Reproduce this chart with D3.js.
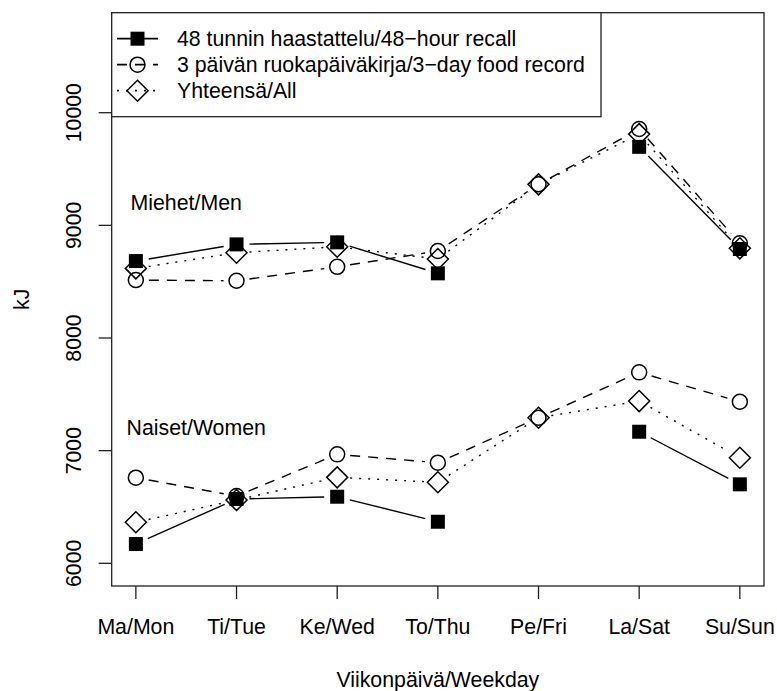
<!DOCTYPE html>
<html><head><meta charset="utf-8">
<script src="https://cdn.jsdelivr.net/npm/d3@7"></script>
<style>body{margin:0;background:#fff}svg{display:block}text{font-family:"Liberation Sans",Arial,Helvetica,sans-serif;fill:#000}</style>
</head><body>
<script>
const days = ["Ma/Mon","Ti/Tue","Ke/Wed","To/Thu","Pe/Fri","La/Sat","Su/Sun"];
const men48 = [8683, 8831, 8849, 8574, null, 9697, 8790];
const men3d = [8514, 8508, 8632, 8772, 9364, 9855, 8840];
const menAll = [8618, 8757, 8810, 8701, 9364, 9810, 8796];
const women48 = [6171, 6571, 6591, 6369, null, 7168, 6701];
const women3d = [6760, 6597, 6967, 6893, 7292, 7695, 7434];
const womenAll = [6364, 6562, 6763, 6719, 7292, 7440, 6937];
const yTicks = [6000, 7000, 8000, 9000, 10000];
const seriesNames = ["48 tunnin haastattelu/48\u2212hour recall", "3 p\u00e4iv\u00e4n ruokap\u00e4iv\u00e4kirja/3\u2212day food record", "Yhteens\u00e4/All"];
const groupLabels = [{text:"Miehet/Men", x:1.5, v:9200}, {text:"Naiset/Women", x:1.6, v:7200}];

const W = 777, H = 691;
const L = 111.7, R = 764, T = 12.7, B = 586;
const FS = 21.3;
const svg = d3.select("body").append("svg").attr("width", W).attr("height", H);

const x = d3.scalePoint().domain(days).range([L, R]).padding(0.24);
const y = d3.scaleLinear().domain([6000, 10000]).range([563.3, 112.7]);
const xi = d3.scaleLinear().domain([1, 7]).range([x(days[0]), x(days[6])]);

const styles = [
  {dash:null, marker:"square"},
  {dash:"10,8", marker:"circle"},
  {dash:"2,7", marker:"diamond"}
];

function drawMarker(g, type, cx, cy) {
  if (type === "square") {
    g.append("rect").attr("x", cx-7).attr("y", cy-7).attr("width", 14).attr("height", 14).attr("fill", "#000");
  } else if (type === "circle") {
    g.append("circle").attr("cx", cx).attr("cy", cy).attr("r", 7.5).attr("fill", "none").attr("stroke", "#000").attr("stroke-width", 1.5);
  } else {
    const r = 10.5;
    g.append("path").attr("d", `M${cx},${cy-r}L${cx+r},${cy}L${cx},${cy+r}L${cx-r},${cy}Z`).attr("fill", "none").attr("stroke", "#000").attr("stroke-width", 1.5);
  }
}

const groups = [[men48, men3d, menAll], [women48, women3d, womenAll]];
const plot = svg.append("g");
const GAP = 13;
groups.forEach(grp => {
  grp.forEach((vals, si) => {
    const st = styles[si];
    const pts = vals.map((v, i) => v == null ? null : [x(days[i]), y(v)]);
    for (let i = 0; i < pts.length - 1; i++) {
      const a = pts[i], b = pts[i+1];
      if (!a || !b) continue;
      const dx = b[0]-a[0], dy = b[1]-a[1], len = Math.hypot(dx, dy);
      if (len <= 2*GAP) continue;
      const ux = dx/len, uy = dy/len;
      const ln = plot.append("line")
        .attr("x1", a[0]+ux*GAP).attr("y1", a[1]+uy*GAP)
        .attr("x2", b[0]-ux*GAP).attr("y2", b[1]-uy*GAP)
        .attr("stroke", "#000").attr("stroke-width", 1.4);
      if (st.dash) ln.attr("stroke-dasharray", st.dash);
    }
    pts.forEach(p => { if (p) drawMarker(plot, st.marker, p[0], p[1]); });
  });
});

// group labels
groupLabels.forEach(gl => {
  svg.append("text").attr("x", xi(gl.x)).attr("y", y(gl.v)).attr("text-anchor", "middle")
    .attr("dominant-baseline", "central").attr("font-size", FS).text(gl.text);
});

// box
svg.append("rect").attr("x", L).attr("y", T).attr("width", R-L).attr("height", B-T)
  .attr("fill", "none").attr("stroke", "#222").attr("stroke-width", 1.3);

// x axis
const xa = svg.append("g");
days.forEach(d => {
  xa.append("line").attr("x1", x(d)).attr("x2", x(d)).attr("y1", B).attr("y2", B+13).attr("stroke", "#222").attr("stroke-width", 1.3);
  xa.append("text").attr("x", x(d)).attr("y", 634.3).attr("text-anchor", "middle").attr("font-size", FS).text(d);
});
svg.append("text").attr("x", (L+R)/2).attr("y", 687).attr("text-anchor", "middle").attr("font-size", FS).text("Viikonp\u00e4iv\u00e4/Weekday");

// y axis
const ya = svg.append("g");
yTicks.forEach(t => {
  ya.append("line").attr("x1", L-13).attr("x2", L).attr("y1", y(t)).attr("y2", y(t)).attr("stroke", "#222").attr("stroke-width", 1.3);
  ya.append("text").attr("transform", `translate(81,${y(t)}) rotate(-90)`).attr("text-anchor", "middle").attr("font-size", FS).text(t);
});
svg.append("text").attr("transform", `translate(28.5,${(T+B)/2}) rotate(-90)`).attr("text-anchor", "middle").attr("font-size", FS).text("kJ");

// legend
const lg = svg.append("g");
lg.append("rect").attr("x", L).attr("y", T).attr("width", 601-L).attr("height", 116.7-T)
  .attr("fill", "#fff").attr("stroke", "#222").attr("stroke-width", 1.3);
const rowY = [38.7, 64.7, 90.7];
seriesNames.forEach((name, i) => {
  const st = styles[i];
  const ln = lg.append("line").attr("x1", 117).attr("x2", 158).attr("y1", rowY[i]).attr("y2", rowY[i])
    .attr("stroke", "#000").attr("stroke-width", 1.8);
  if (st.dash) ln.attr("stroke-dasharray", st.dash);
  drawMarker(lg, st.marker, 137.5, rowY[i]);
  lg.append("text").attr("x", 177).attr("y", rowY[i]).attr("dominant-baseline", "central").attr("font-size", FS).text(name);
});
</script>
</body></html>
